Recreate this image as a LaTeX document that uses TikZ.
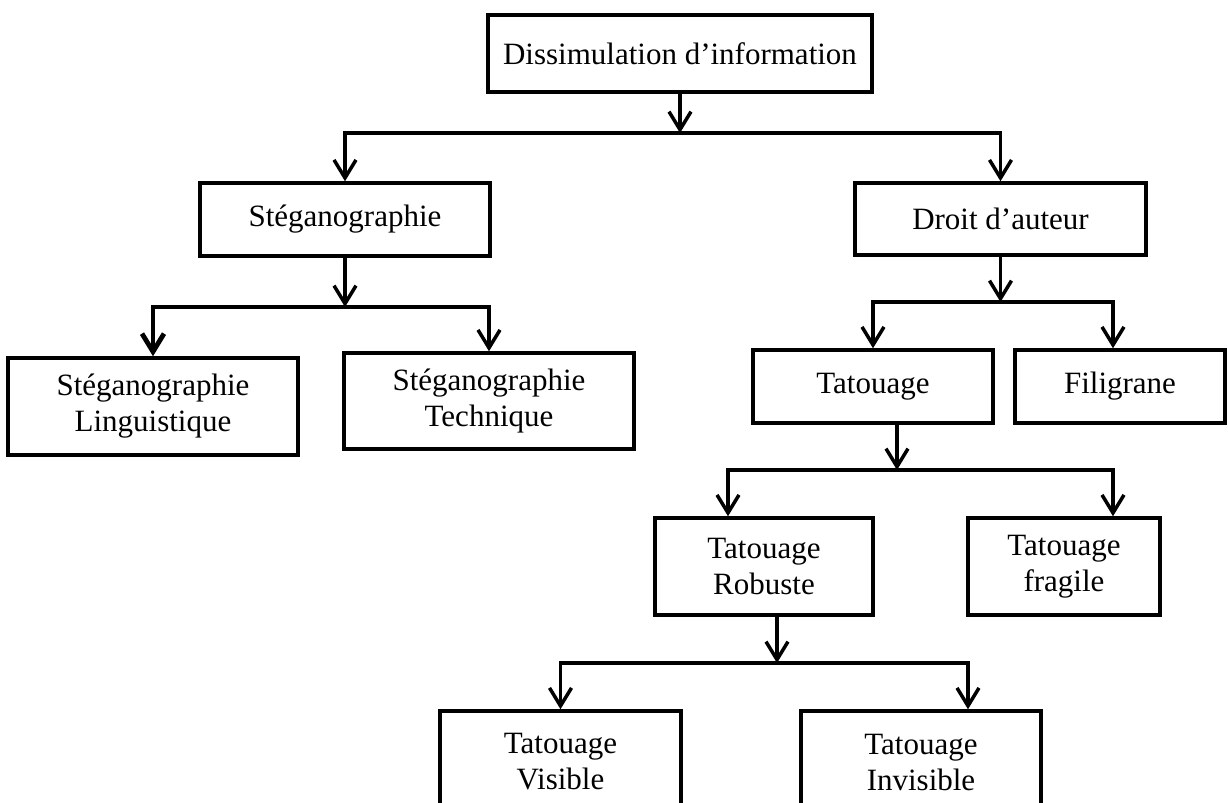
\documentclass[tikz,border=0pt]{standalone}
\usepackage{fontspec}
\setmainfont{Liberation Serif}
\usetikzlibrary{arrows.meta,positioning}

\begin{document}
\begin{tikzpicture}[x=0.5pt,y=-0.5pt,>={Straight Barb[length=9pt,width=11pt]},
  box/.style={draw,line width=1.75pt,inner sep=0pt,align=center,
    font=\fontsize{15.5pt}{18pt}\selectfont},
  link/.style={->,line width=1.75pt}]
  \useasboundingbox (0,0) rectangle (1228,803);
  \clip (0,0) rectangle (1228,803);
  % boxes
  \node[box,minimum width=192pt,minimum height=38.5pt] (diss) at (680,53.5) {Dissimulation d’information};
  \node[box,minimum width=145pt,minimum height=36.5pt] (steg) at (345,219.5) {Stéganographie};
  \node[box,minimum width=145.5pt,minimum height=36pt] (droit) at (1000.5,219) {Droit d’auteur};
  \node[box,minimum width=145pt,minimum height=48.5pt] (ling) at (153,406.5) {Stéganographie\\Linguistique};
  \node[box,minimum width=145pt,minimum height=48pt] (tech) at (489,401) {Stéganographie\\Technique};
  \node[box,minimum width=120pt,minimum height=36.5pt] (tat) at (873,386.5) {Tatouage};
  \node[box,minimum width=105pt,minimum height=36.5pt] (fili) at (1120,386.5) {Filigrane};
  \node[box,minimum width=109pt,minimum height=48.5pt] (rob) at (764,566.5) {Tatouage\\Robuste};
  \node[box,minimum width=96pt,minimum height=48.5pt] (frag) at (1064,566.5) {Tatouage\\fragile};
  \node[box,minimum width=120.5pt,minimum height=51pt] (vis) at (560.5,762) {Tatouage\\Visible};
  \node[box,minimum width=120pt,minimum height=51pt] (invis) at (921,762) {Tatouage\\Invisible};
  % branch points
  \coordinate (b1) at (680,133);
  \coordinate (b2) at (345,307);
  \coordinate (b3) at (1000.5,302);
  \coordinate (b4) at (897,470);
  \coordinate (b5) at (777,663);
  % links
  \draw[link] (diss) -- (b1);
  \draw[link] (b1) -| (steg);
  \draw[link] (b1) -| (droit);
  \draw[link] (steg) -- (b2);
  \draw[link,line width=2.4pt] (b2) -| (ling);
  \draw[link] (b2) -| (tech);
  \draw[link] (droit) -- (b3);
  \draw[link] (b3) -| (tat);
  \draw[link] (b3) -| ([xshift=-3.5pt]fili.north);
  \draw[link] (tat.south -| b4) -- (b4);
  \draw[link] (b4) -| ([xshift=-18pt]rob.north);
  \draw[link] (b4) -| ([xshift=24.5pt]frag.north);
  \draw[link] (rob.south -| b5) -- (b5);
  \draw[link] (b5) -| (vis);
  \draw[link] (b5) -| ([xshift=23.5pt]invis.north);
\end{tikzpicture}
\end{document}
